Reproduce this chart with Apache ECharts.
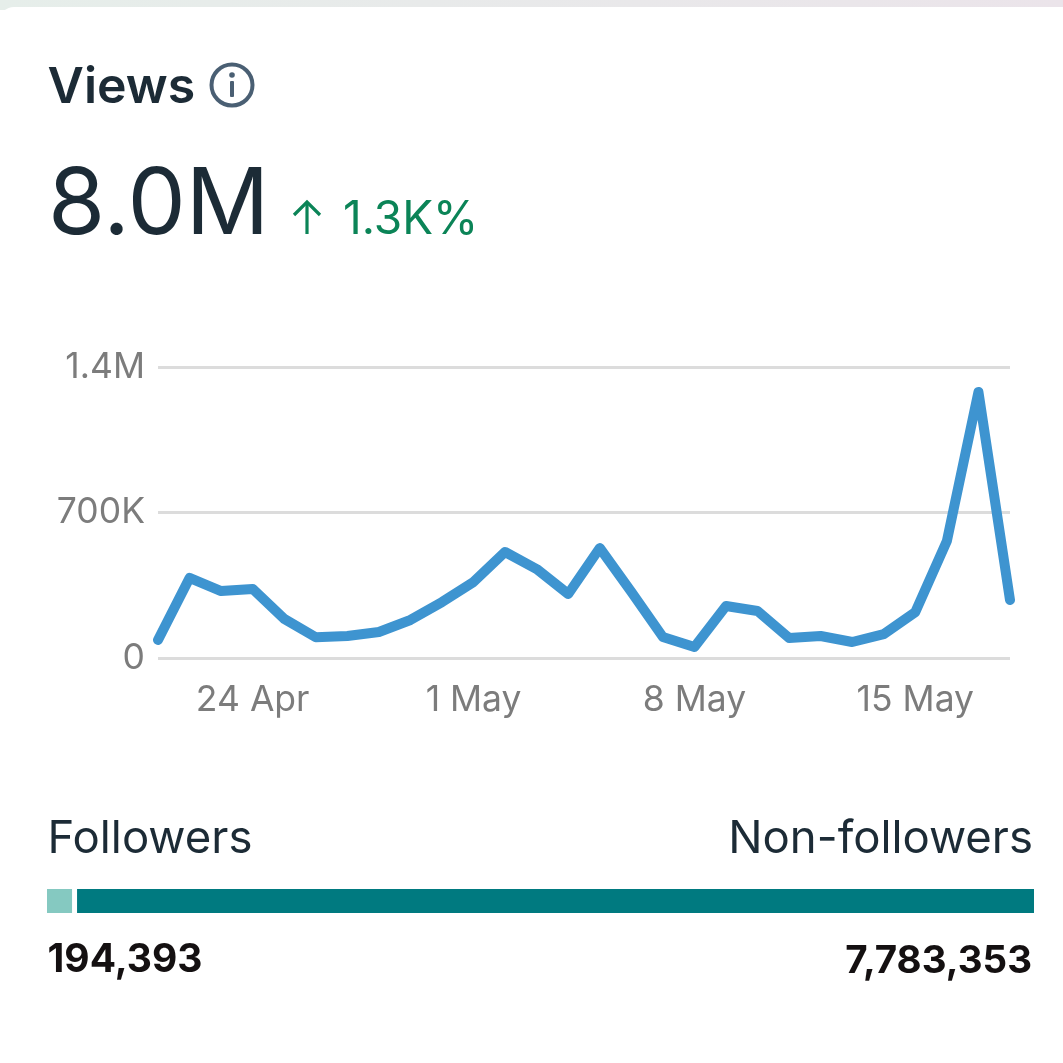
<!DOCTYPE html>
<html><head><meta charset="utf-8">
<style>html,body{margin:0;padding:0;background:#fff}#c{width:1063px;height:1063px}</style>
<script src="https://cdn.jsdelivr.net/npm/echarts@6/dist/echarts.min.js"></script>
</head><body><div id="c"></div>
<script>
const dates=['21 Apr','22 Apr','23 Apr','24 Apr','25 Apr','26 Apr','27 Apr','28 Apr','29 Apr','30 Apr','1 May','2 May','3 May','4 May','5 May','6 May','7 May','8 May','9 May','10 May','11 May','12 May','13 May','14 May','15 May','16 May','17 May','18 May'];
const views=[87000,385000,322000,332000,188000,100000,106000,125000,183000,269000,366000,510000,428000,308000,529000,318000,101000,53000,250000,226000,96000,106000,77000,115000,221000,563000,1280000,279000];
const shownDates=['24 Apr','1 May','8 May','15 May'];
const audience=['Followers','Non-followers'];
const audienceValues=[194393,7783353];
const audienceLabels=['194,393','7,783,353'];
const audienceColors=['#85c9c1','#007a80'];
const FONT='Inter';
const chart=echarts.init(document.getElementById('c'),null,{renderer:'canvas'});
const t=(x,y,text,size,weight,fill,align)=>({type:'text',x,y:y-0.79*size,silent:true,style:{text,fontFamily:FONT,fontSize:size,fontWeight:weight,fill,align:align||'left',verticalAlign:'top'}});
const total=audienceValues[0]+audienceValues[1];
chart.setOption({
 animation:false,
 backgroundColor:'#fff',
 grid:[{left:158,right:53,top:367,height:291},{left:47,right:29,top:889,height:24}],
 xAxis:[
  {type:'category',gridIndex:0,data:dates,boundaryGap:false,axisTick:{show:false},
   axisLine:{show:false},
   axisLabel:{interval:(i,v)=>shownDates.includes(v),color:'#7c7c7c',fontFamily:FONT,fontSize:35.5,margin:24,hideOverlap:false}},
  {type:'value',gridIndex:1,min:0,max:total,show:false}],
 yAxis:[
  {type:'value',gridIndex:0,min:0,max:1400000,interval:700000,
   axisLine:{show:false},axisTick:{show:false},
   splitLine:{lineStyle:{color:'#dcdcdc',width:3}},
   axisLabel:{color:'#7c7c7c',fontFamily:FONT,fontSize:35.5,margin:13,
     formatter:v=>v===0?'0':v>=1e6?(v/1e6)+'M':(v/1e3)+'K'}},
  {type:'category',gridIndex:1,data:['Audience'],show:false}],
 series:[
  {type:'line',xAxisIndex:0,yAxisIndex:0,data:views,symbol:'none',
   lineStyle:{color:'#3e94d0',width:10,cap:'round',join:'round'}},
  {type:'custom',xAxisIndex:1,yAxisIndex:1,data:[[audienceValues[0],audienceValues[1]]],
   encode:{x:[0,1]},clip:false,
   renderItem:(p,api)=>{
     const a=api.value(0),b=api.value(1);
     const x0=api.coord([0,0])[0],x1=api.coord([a,0])[0],x2=api.coord([a+b,0])[0];
     const h=api.size([0,1])[1],y=api.coord([0,0])[1]-h/2;
     return {type:'group',children:[
       {type:'rect',shape:{x:x0,y,width:x1-x0+1,height:h},style:{fill:audienceColors[0]}},
       {type:'rect',shape:{x:x1+6,y,width:x2-x1-6,height:h},style:{fill:audienceColors[1]}}]};
   }}
 ],
 graphic:[
  {type:'rect',z:-10,silent:true,shape:{x:0,y:0,width:1063,height:10},
   style:{fill:new echarts.graphic.LinearGradient(0,0,1,0,[{offset:0,color:'#e6eeea'},{offset:1,color:'#ebe4ea'}])}},
  {type:'rect',z:-9,silent:true,shape:{x:0,y:7,width:1090,height:1100,r:14},style:{fill:'#fff'}},
  t(47.5,102,'Views',50,600,'#1c2b36'),
  {type:'circle',silent:true,shape:{cx:232,cy:85,r:20.5},style:{fill:'none',stroke:'#4a5f73',lineWidth:4}},
  {type:'circle',silent:true,shape:{cx:232,cy:75,r:2.8},style:{fill:'#4a5f73'}},
  {type:'rect',silent:true,shape:{x:230,y:81,width:4,height:16,r:1},style:{fill:'#4a5f73'}},
  t(48,233,'8.0M',92.5,400,'#1c2b36'),
  t(343,234,'1.3K%',46,400,'#0b8457'),
  {type:'polyline',silent:true,shape:{points:[[307,203],[307,234]]},style:{fill:'none',stroke:'#0b8457',lineWidth:3.2}},
  {type:'polyline',silent:true,shape:{points:[[294,215],[307,202],[320,215]]},style:{fill:'none',stroke:'#0b8457',lineWidth:3.2}},
  t(47.5,852,audience[0],45.5,400,'#1c2b36'),
  t(1033,852,audience[1],45.5,400,'#1c2b36','right'),
  t(47.5,972,audienceLabels[0],39,700,'#141011'),
  t(1032,972,audienceLabels[1],38.5,700,'#141011','right')
 ]
});
</script></body></html>
